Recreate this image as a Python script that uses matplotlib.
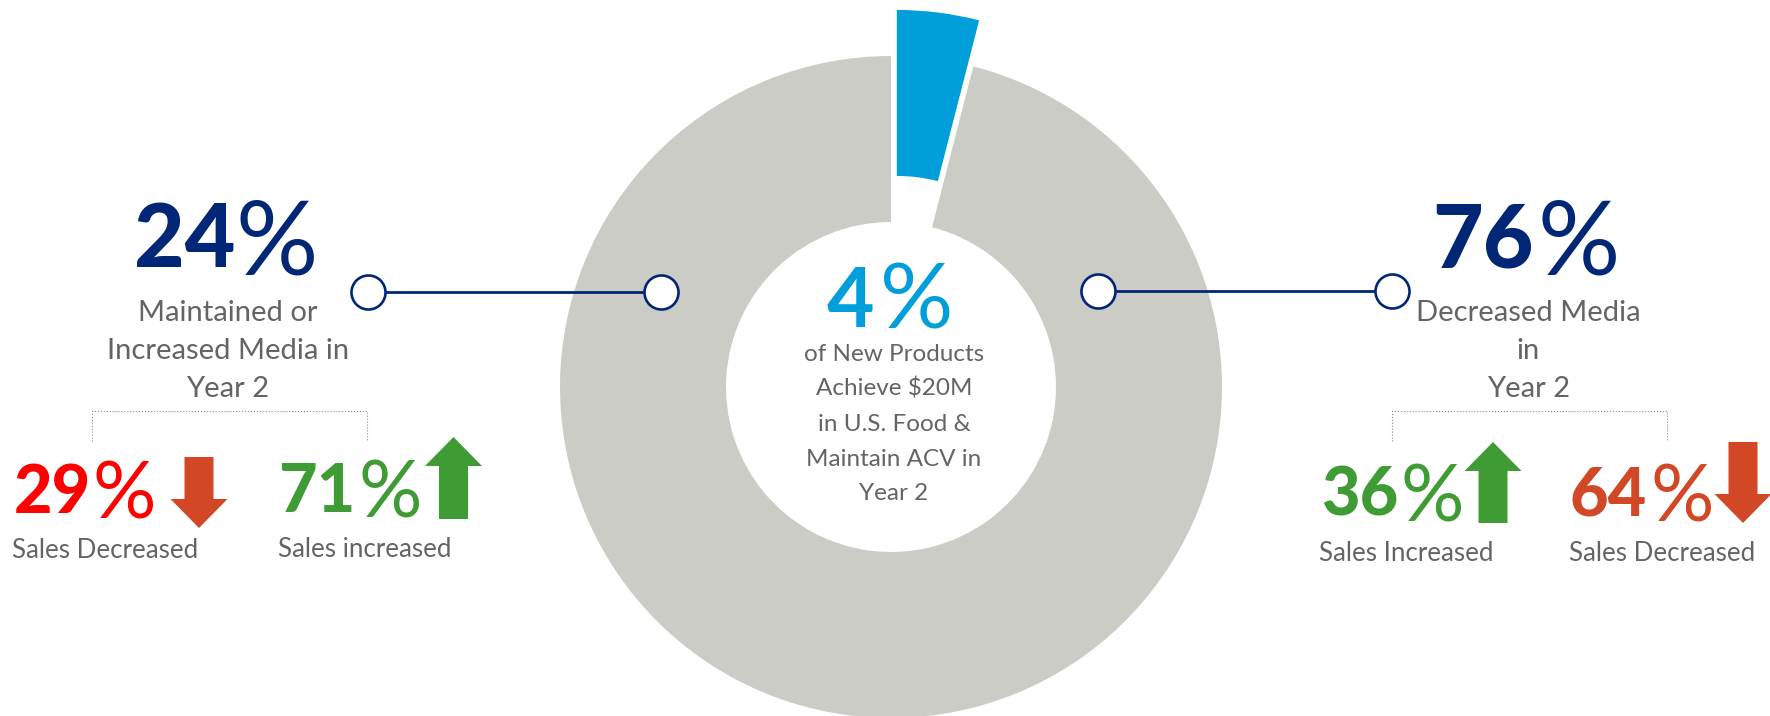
import matplotlib
matplotlib.use('Agg')
import matplotlib.pyplot as plt

plt.rcParams['font.family'] = ['Lato', 'DejaVu Sans']

# Data
shares = [4, 96]
media_values = [24, 76]
left_split = [29, 71]
right_split = [36, 64]

center_lines = ['of New Products', 'Achieve $20M', 'in U.S. Food &', 'Maintain ACV in', 'Year 2']
left_lines = ['Maintained or', 'Increased Media in', 'Year 2']
right_lines = ['Decreased Media', 'in', 'Year 2']

blue = '#009FDA'
grey = '#CBCCC6'
navy = '#002776'
text_grey = '#636466'
green = '#3F9C35'
orange = '#D24726'
red = '#FF0000'

fig = plt.figure(figsize=(17.7, 7.16), dpi=100)
ax = fig.add_axes([0, 0, 1, 1])

# y is inverted below, so the angles run the other way round
ax.pie(shares, colors=[blue, grey], startangle=-90, counterclock=True,
       center=(891, 387), radius=331, explode=(46.4, 0),
       wedgeprops=dict(width=166, edgecolor='none'))
ax.set_xlim(0, 1770)
ax.set_ylim(716, 0)
ax.set_aspect('equal')
ax.axis('off')


# big number with a lighter, larger percent sign
def percent(value, x, base, px, color, size, pct_size, weight='black', drop=0.1):
    ax.text(x, base, str(value), fontsize=size, color=color, fontweight=weight,
            ha='left', va='baseline')
    ax.text(px, base + pct_size * drop, '%', fontsize=pct_size, color=color,
            ha='left', va='baseline')


def label_lines(lines, x, bases, size):
    for line, base in zip(lines, bases):
        ax.text(x, base, line, fontsize=size, color=text_grey, ha='center', va='baseline')


def connector(x1, x2, y):
    ax.plot([x1, x2], [y, y], color=navy, lw=2, zorder=3)
    ax.plot([x1, x2], [y, y], ls='none', marker='o', ms=24.5, mfc='white', mec=navy,
            mew=1.9, zorder=4)


def bracket(x1, x2):
    ax.plot([x1, x1, x2, x2], [441, 411, 411, 441], color='#8c8c8c', lw=0.8, ls=':')


def arrow(x, start, end, color):
    ax.arrow(x, start, 0, end - start, width=29, head_width=57, head_length=29,
             length_includes_head=True, color=color, lw=0, zorder=2)


# centre of the donut
percent(shares[0], 827, 327, 880, blue, 59, 66, weight='bold', drop=0.03)
label_lines(center_lines, 894, [361, 396, 431, 466, 500], 17.5)

# left side
percent(media_values[0], 134, 267, 236, navy, 63, 74)
label_lines(left_lines, 228, [321, 359, 397], 21)
connector(368, 661, 292)
bracket(91.5, 367)
percent(left_split[0], 14, 513, 93, red, 48, 57)
arrow(199, 457, 528, orange)
percent(left_split[1], 278, 512, 358, green, 48, 57)
arrow(453.5, 519, 437, green)
ax.text(12, 558, 'Sales Decreased', fontsize=18.6, color=text_grey, ha='left', va='baseline')
ax.text(278, 557, 'Sales increased', fontsize=18.6, color=text_grey, ha='left', va='baseline')

# right side
percent(media_values[1], 1432, 267, 1537, navy, 63, 74)
label_lines(right_lines, 1528.5, [321, 359, 397], 21)
connector(1098, 1391.5, 290.5)
bracket(1392, 1667)
percent(right_split[0], 1321, 516, 1401, green, 48, 57)
arrow(1493, 523, 442, green)
percent(right_split[1], 1570, 516, 1651, orange, 48, 57)
arrow(1743, 442, 523, orange)
ax.text(1319, 561, 'Sales Increased', fontsize=18.6, color=text_grey, ha='left', va='baseline')
ax.text(1569, 561, 'Sales Decreased', fontsize=18.6, color=text_grey, ha='left', va='baseline')

fig.savefig('out.png', dpi=100)
